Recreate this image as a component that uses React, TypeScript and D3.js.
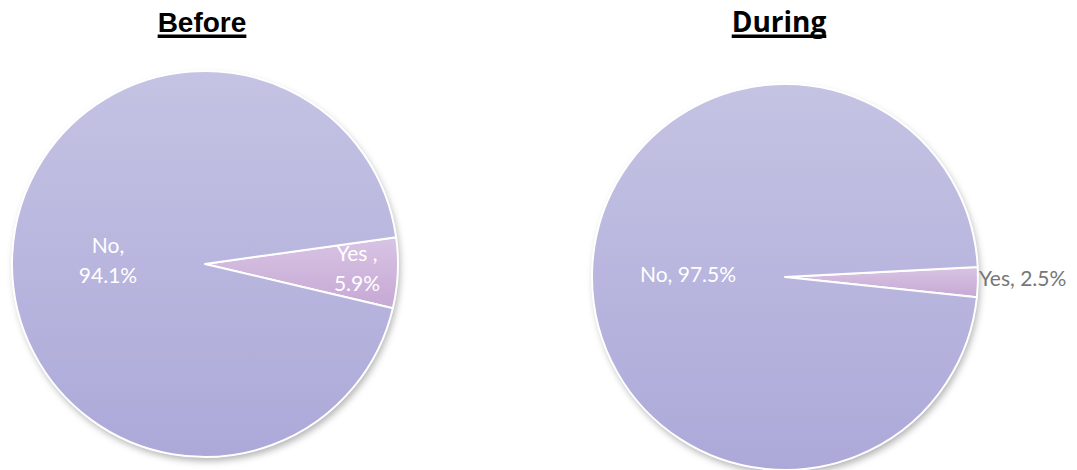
import { useEffect, useRef } from 'react'
import * as d3 from 'd3'

// chart data
const categories = ['Yes', 'No']
const beforeValues = [5.9, 94.1]
const duringValues = [2.5, 97.5]
const titles = ['Before', 'During']

const WIDTH = 1077
const HEIGHT = 470

const COLORS = {
  No: { top: '#c4c3e3', bottom: '#aca9d9' },
  Yes: { top: '#d8c4e4', bottom: '#c6a8d4' },
}

function App() {
  const ref = useRef<SVGSVGElement | null>(null)

  useEffect(() => {
    document.body.style.margin = '0'
    if (!ref.current) return

    const svg = d3.select(ref.current)
    svg.selectAll('*').remove()

    const defs = svg.append('defs')

    const shadow = defs.append('filter')
      .attr('id', 'pieShadow')
      .attr('x', '-10%').attr('y', '-10%')
      .attr('width', '125%').attr('height', '125%')
    shadow.append('feDropShadow')
      .attr('dx', 2).attr('dy', 4)
      .attr('stdDeviation', 3.5)
      .attr('flood-color', '#000')
      .attr('flood-opacity', 0.3)

    categories.forEach(c => {
      const g = defs.append('linearGradient')
        .attr('id', `grad-${c}`)
        .attr('x1', 0).attr('y1', 0).attr('x2', 0).attr('y2', 1)
      g.append('stop').attr('offset', '0%').attr('stop-color', COLORS[c].top)
      g.append('stop').attr('offset', '100%').attr('stop-color', COLORS[c].bottom)
    })

    const pies = [
      { title: titles[0], values: beforeValues, cx: 205, cy: 264, r: 193, start: 82, titleX: 202, font: "'Liberation Sans', Arimo, Arial, Helvetica, sans-serif", titleSize: 28 },
      { title: titles[1], values: duringValues, cx: 785, cy: 277, r: 193, start: 87, titleX: 779, font: "'Open Sans', sans-serif", titleSize: 28 },
    ]

    pies.forEach((p, pi) => {
      const data = categories.map((c, i) => ({ label: c, value: p.values[i] }))
      const pie = d3.pie<any>()
        .sort(null)
        .value(d => d.value)
        .startAngle(p.start * Math.PI / 180)
        .endAngle(p.start * Math.PI / 180 + Math.PI * 2)
      const arc = d3.arc<any>().innerRadius(0).outerRadius(p.r)
      const arcs = pie(data)

      const g = svg.append('g').attr('transform', `translate(${p.cx},${p.cy})`)

      // shadow under the whole pie
      g.append('circle')
        .attr('r', p.r)
        .attr('fill', '#fff')
        .attr('filter', 'url(#pieShadow)')

      g.selectAll('path.slice')
        .data(arcs)
        .enter()
        .append('path')
        .attr('class', 'slice')
        .attr('d', arc)
        .attr('fill', d => `url(#grad-${d.data.label})`)
        .attr('stroke', '#fff')
        .attr('stroke-width', 2)
        .attr('stroke-linejoin', 'round')

      // title with a thick underline
      const t = svg.append('text')
        .attr('x', p.titleX)
        .attr('y', 32)
        .attr('text-anchor', 'middle')
        .attr('font-family', p.font)
        .attr('font-weight', 'bold')
        .attr('font-size', p.titleSize)
        .attr('fill', '#000')
        .text(p.title)
      const tw = (t.node() as SVGTextElement).getComputedTextLength()
      svg.append('rect')
        .attr('x', p.titleX - tw / 2)
        .attr('y', 34.5)
        .attr('width', tw)
        .attr('height', 3.5)
        .attr('fill', '#000')

      // labels
      const fmt = (v: number) => `${v.toFixed(1)}%`
      const lab = "Lato, 'Open Sans', sans-serif"
      const yes = arcs[0], no = arcs[1]
      if (pi === 0) {
        g.append('text')
          .attr('text-anchor', 'middle')
          .attr('font-family', lab).attr('font-size', 21)
          .attr('fill', '#fff')
          .call(sel => {
            sel.append('tspan').attr('x', 108 - p.cx).attr('y', 253 - p.cy).text(`${no.data.label},`)
            sel.append('tspan').attr('x', 108 - p.cx).attr('y', 283 - p.cy).text(fmt(no.data.value))
          })
        g.append('text')
          .attr('text-anchor', 'middle')
          .attr('font-family', lab).attr('font-size', 21)
          .attr('fill', '#fff')
          .call(sel => {
            sel.append('tspan').attr('x', 357 - p.cx).attr('y', 261 - p.cy).text(`${yes.data.label} ,`)
            sel.append('tspan').attr('x', 357 - p.cx).attr('y', 291 - p.cy).text(fmt(yes.data.value))
          })
      } else {
        g.append('text')
          .attr('x', 688 - p.cx).attr('y', 282 - p.cy)
          .attr('text-anchor', 'middle')
          .attr('font-family', lab).attr('font-size', 21)
          .attr('fill', '#fff')
          .text(`${no.data.label}, ${fmt(no.data.value)}`)
        g.append('text')
          .attr('x', 979 - p.cx).attr('y', 286 - p.cy)
          .attr('text-anchor', 'start')
          .attr('font-family', lab).attr('font-size', 21)
          .attr('fill', '#777777')
          .text(`${yes.data.label}, ${fmt(yes.data.value)}`)
      }
    })
  }, [])

  return <svg ref={ref} width={WIDTH} height={HEIGHT} style={{ display: 'block', background: '#fff' }} />
}

export default App
